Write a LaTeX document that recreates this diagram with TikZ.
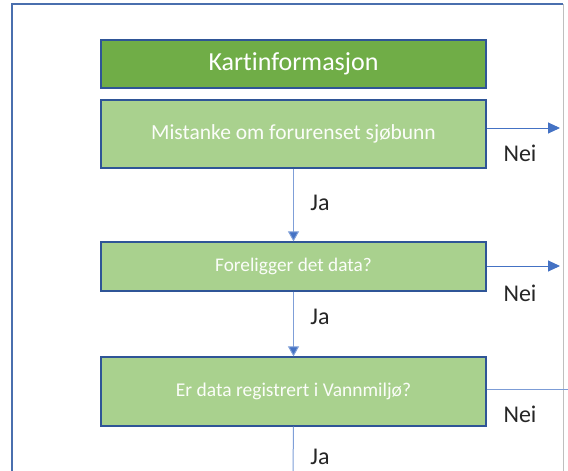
\documentclass[tikz,border=0pt]{standalone}
\usepackage{fontspec}
\setmainfont{Carlito}[RawFeature=-liga]
\usetikzlibrary{arrows.meta}
\definecolor{frameblue}{HTML}{4A6FAE}
\definecolor{boxborder}{HTML}{2F5597}
\definecolor{darkgreen}{HTML}{70AD47}
\definecolor{lightgreen}{HTML}{A9D18E}
\definecolor{arrowblue}{HTML}{4472C4}
\definecolor{linkblue}{HTML}{7F9FD8}
\begin{document}
\begin{tikzpicture}[x=1pt,y=-1pt,
  titlebox/.style={draw=boxborder,line width=1.3pt,fill=darkgreen,minimum width=385pt,
    text=white,font=\fontsize{26}{30}\selectfont,inner sep=0pt},
  stepbox/.style={draw=boxborder,line width=1.3pt,fill=lightgreen,minimum width=385pt,
    text=white!95!lightgreen,inner sep=0pt},
  flow/.style={draw=linkblue,line width=1pt,-{Triangle[length=10pt,width=11pt,fill=arrowblue]}},
  sidearrow/.style={draw=arrowblue,line width=0.9pt,-{Triangle[length=12pt,width=11pt]}},
  lbl/.style={text=black!85,font=\fontsize{24}{28}\selectfont,inner sep=0pt}]
\useasboundingbox (0,0) rectangle (568,471);
\fill[white] (0,0) rectangle (568,471);
% frame
\draw[black!25,line width=0.8pt] (563,4) -- (563,471);
\draw[frameblue,line width=2pt] (12,471) -- (12,4) -- (563,4);
% boxes
\node[titlebox,minimum height=48pt] (k) at (293.5,64) {Kartinformasjon};
\node[stepbox,minimum height=68pt,font=\fontsize{21.5}{26}\selectfont] (m) at (293.5,134) {Mistanke om forurenset sjøbunn};
\node[stepbox,minimum height=49pt,font=\fontsize{19.3}{23}\selectfont] (f) at (293.5,266.5) {Foreligger det data?};
\node[stepbox,minimum height=69pt,font=\fontsize{19.5}{23}\selectfont] (e) at (293.5,391.5) {Er data registrert i Vannmiljø?};
% free ends
\coordinate (n1) at (560,128);
\coordinate (n2) at (560,266);
\coordinate (n3) at (568,389);
\coordinate (j3) at (293,471);
% vertical connectors
\draw[flow] (m.south) -- (f.north);
\draw[flow] (f.south) -- (e.north);
\draw[linkblue,line width=1pt] (e.south) -- (j3);
% side connectors
\draw[sidearrow] (m.east |- n1) -- (n1);
\draw[sidearrow] (f.east |- n2) -- (n2);
\draw[arrowblue!70,line width=0.9pt] (e.east |- n3) -- (n3);
% labels
\node[lbl] (nei1) at (520,153) {Nei};
\node[lbl] (nei2) at (520,293) {Nei};
\node[lbl] (nei3) at (520,414) {Nei};
\node[lbl] (ja1) at (320,203) {Ja};
\node[lbl] (ja2) at (320,317) {Ja};
\node[lbl] (ja3) at (320,457) {Ja};
\end{tikzpicture}
\end{document}
